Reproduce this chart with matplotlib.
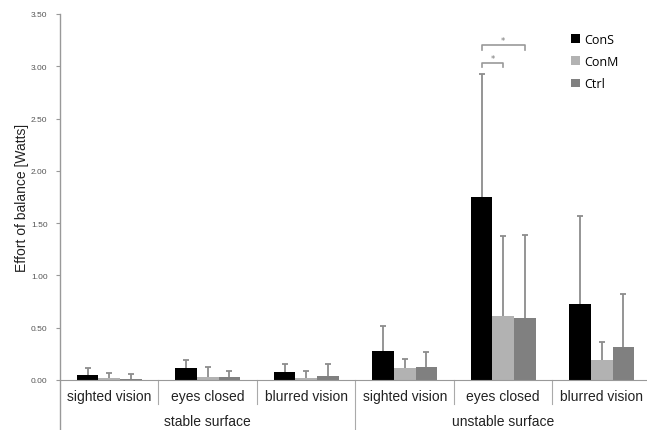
import numpy as np
import matplotlib
matplotlib.use('Agg')
import matplotlib.pyplot as plt

# ---- data ----
categories = ['sighted vision', 'eyes closed', 'blurred vision',
              'sighted vision', 'eyes closed', 'blurred vision']
groups = ['stable surface', 'unstable surface']
series = ['ConS', 'ConM', 'Ctrl']
colors = ['#000000', '#b2b2b2', '#808080']

cons_mean = [0.05, 0.11, 0.08, 0.28, 1.75, 0.73]
cons_top = [0.11, 0.19, 0.15, 0.52, 2.93, 1.57]
conm_mean = [0.02, 0.03, 0.02, 0.11, 0.61, 0.19]
conm_top = [0.07, 0.12, 0.09, 0.20, 1.38, 0.36]
ctrl_mean = [0.01, 0.03, 0.04, 0.12, 0.59, 0.32]
ctrl_top = [0.06, 0.09, 0.15, 0.27, 1.39, 0.82]

yticks = [0.0, 0.5, 1.0, 1.5, 2.0, 2.5, 3.0, 3.5]

fig = plt.figure(figsize=(6.47, 4.31), dpi=100)
ax = fig.add_axes([60 / 647, 50 / 431, 591 / 647, 366 / 431])

x = np.arange(len(categories))
w = 0.22
means = [cons_mean, conm_mean, ctrl_mean]
tops = [cons_top, conm_top, ctrl_top]
for i, (m, t, c, lab) in enumerate(zip(means, tops, colors, series)):
    xs = x + (i - 1) * w
    ax.bar(xs, m, w, color=c, label=lab, zorder=2)
    # upper error bar only
    ax.vlines(xs, m, t, color='#8c8c8c', lw=1.3, zorder=1)
    ax.plot(xs, t, ls='none', marker='_', ms=5, mew=1.3, color='#8c8c8c', zorder=1)

ax.set_xlim(-0.5, 5.5)
ax.set_ylim(0, 3.5)
ax.set_yticks(yticks)
ax.set_yticklabels([f'{v:.2f}' for v in yticks], fontsize=6, color='#555555',
                   family='Liberation Sans')
ax.tick_params(axis='y', length=3, color='#999999', pad=6)
ax.set_xticks([])
ax.set_ylabel('Effort of balance [Watts]', fontsize=10, color='#222222',
              family='Liberation Sans')
ax.yaxis.set_label_coords(-0.052, 0.5)

for s in ['top', 'right', 'left']:
    ax.spines[s].set_visible(False)
ax.spines['bottom'].set_color('#999999')

tr = ax.get_xaxis_transform()
# y-axis line reaching down past the labels
ax.plot([-0.5, -0.5], [-0.137, 1.0], transform=tr, color='#999999', lw=1, clip_on=False)
# category dividers
for xd in [0.5, 1.5, 3.5, 4.5]:
    ax.plot([xd, xd], [0, -0.066], transform=tr, color='#aaaaaa', lw=0.8, clip_on=False)
ax.plot([2.5, 2.5], [0, -0.137], transform=tr, color='#aaaaaa', lw=0.8, clip_on=False)

for xi, lab in zip(x, categories):
    ax.text(xi, -0.043, lab, transform=tr, ha='center', va='center', fontsize=10,
            color='#222222', family='Liberation Sans')
for gi, g in enumerate(groups):
    ax.text(1 + gi * 3, -0.113, g, transform=tr, ha='center', va='center', fontsize=10,
            color='#222222', family='Liberation Sans')

# significance brackets
def bracket(x1, x2, y, h=0.04):
    ax.plot([x1, x1, x2, x2], [y - h, y, y, y - h], color='#999999', lw=1.2, clip_on=False)
    ax.text((x1 + x2) / 2, y + 0.005, '*', ha='center', va='bottom', fontsize=6, color='#777777')

bracket(4 - w, 4, 3.03)
bracket(4 - w, 4 + w, 3.20)

leg = ax.legend(loc='upper right', bbox_to_anchor=(0.965, 0.98), frameon=False,
                handlelength=0.7, handleheight=0.7, handletextpad=0.4, labelspacing=0.75,
                prop={'family': 'Open Sans', 'size': 9})

fig.savefig('out.png', dpi=100)
